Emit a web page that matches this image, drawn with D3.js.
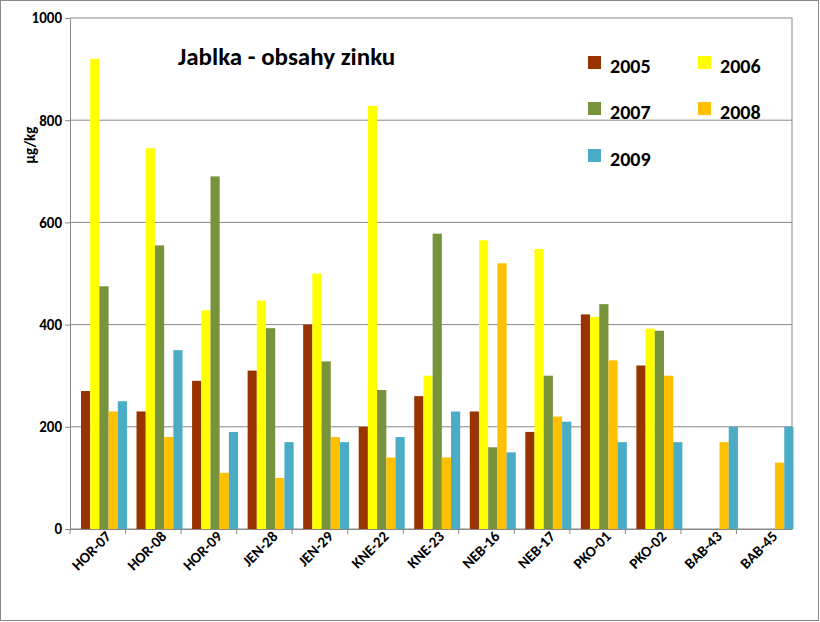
<!DOCTYPE html>
<html><head><meta charset="utf-8">
<script src="https://cdn.jsdelivr.net/npm/d3@7"></script>
<style>body{margin:0;background:#fff}text{font-family:Carlito,"Liberation Sans",Arial,sans-serif}</style>
</head><body>
<svg id="chart" width="820" height="622"></svg>
<script>
// hodnoty zinku (µg/kg) podle lokality
var lokality = ["HOR-07","HOR-08","HOR-09","JEN-28","JEN-29","KNE-22","KNE-23","NEB-16","NEB-17","PKO-01","PKO-02","BAB-43","BAB-45"];
var roky = ["2005","2006","2007","2008","2009"];
var r2005 = [270,230,290,310,400,200,260,230,190,420,320,null,null];
var r2006 = [920,745,428,447,500,828,300,565,548,415,392,null,null];
var r2007 = [475,555,690,393,328,272,578,160,300,440,388,null,null];
var r2008 = [230,180,110,100,180,140,140,520,220,330,300,170,130];
var r2009 = [250,350,190,170,170,180,230,150,210,170,170,200,200];
var barvy = ["#993300","#FFFF00","#77933C","#FFC000","#4BACC6"];
var serie = [r2005,r2006,r2007,r2008,r2009];
var yTicks = [0,200,400,600,800,1000];

var svg = d3.select("#chart");
svg.append("rect").attr("x",0.5).attr("y",0.5).attr("width",818).attr("height",620)
   .attr("fill","#fff").attr("stroke","#888");

var m = {l:70, r:792, t:18, b:529};
var x = d3.scaleBand().domain(lokality).range([m.l,m.r]);
var xi = d3.scaleBand().domain(roky).range([11,11+46]);
var y = d3.scaleLinear().domain([0,1000]).range([m.b,m.t]);

/*mrizka*/
svg.selectAll(".grid").data(yTicks).enter().append("line")
   .attr("x1",m.l).attr("x2",m.r).attr("y1",function(d){return y(d);}).attr("y2",function(d){return y(d);})
   .attr("stroke","#888").attr("stroke-width",1);
svg.append("line").attr("x1",m.r).attr("x2",m.r).attr("y1",m.t).attr("y2",m.b).attr("stroke","#888");

/*sloupce*/
serie.forEach(function(s,i){
  svg.append("g").selectAll("rect").data(s).enter().append("rect")
    .filter(function(d){return d!=null;})
    .attr("x",function(d,j){return x(lokality[j])+xi(roky[i]);})
    .attr("y",function(d){return y(d);})
    .attr("width",xi.bandwidth())
    .attr("height",function(d){return y(0)-y(d);})
    .attr("fill",barvy[i]);
});

var ya = svg.append("g").attr("transform","translate("+m.l+",0)")
  .call(d3.axisLeft(y).tickValues(yTicks).tickFormat(d3.format("d")).tickSize(5).tickSizeOuter(0));
ya.selectAll("text").attr("font-size",15).attr("font-weight","bold").attr("fill","#000");
ya.selectAll("line,path").attr("stroke","#888");

var xa = svg.append("g").attr("transform","translate(0,"+m.b+")")
  .call(d3.axisBottom(x).tickSize(5).tickSizeOuter(0));
xa.selectAll(".tick line").attr("transform","translate("+(-x.bandwidth()/2)+",0)");
xa.selectAll("line,path").attr("stroke","#888");
xa.selectAll("text").attr("font-size",15).attr("font-weight","bold").attr("fill","#000")
  .attr("text-anchor","end").attr("dx","4").attr("dy","8")
  .attr("transform","rotate(-45)");

svg.append("text").attr("transform","translate(35,145) rotate(-90)").attr("text-anchor","middle")
  .attr("font-size",15).attr("font-weight","bold").text("µg/kg");
svg.append("text").attr("x",178).attr("y",65).attr("font-size",25).attr("font-weight","bold").text("Jablka - obsahy zinku");

/*legenda*/
var leg = [[588,67],[698,67],[588,113],[698,113],[588,160]];
roky.forEach(function(r,i){
  svg.append("rect").attr("x",leg[i][0]).attr("y",leg[i][1]-11).attr("width",13).attr("height",13).attr("fill",barvy[i]);
  svg.append("text").attr("x",leg[i][0]+22).attr("y",leg[i][1]+6).attr("font-size",20).attr("font-weight","bold").text(r);
});
</script>
</body></html>
